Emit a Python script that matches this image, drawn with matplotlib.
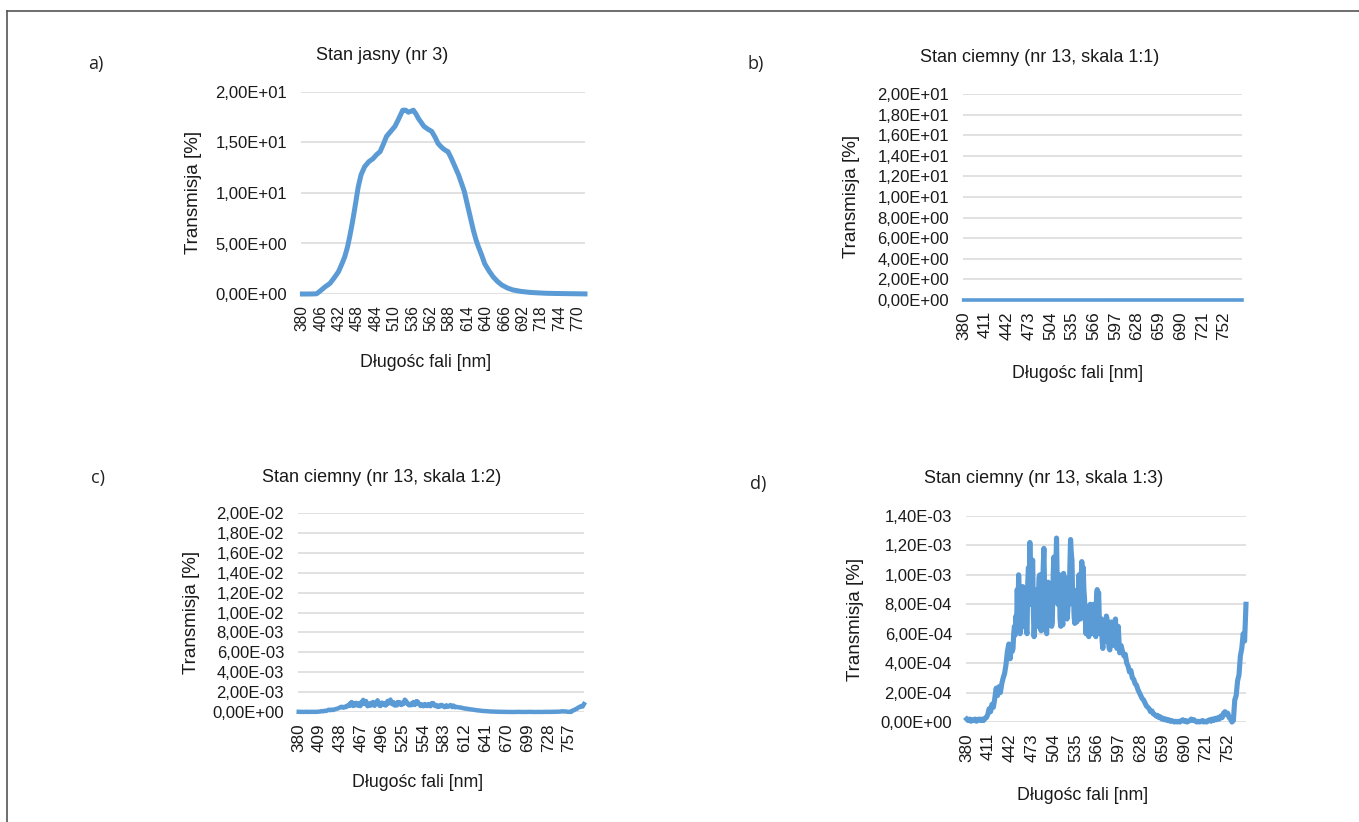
import numpy as np
import matplotlib
matplotlib.use("Agg")
import matplotlib.pyplot as plt
from matplotlib.ticker import FuncFormatter

plt.rcParams['font.family'] = ['Liberation Sans', 'DejaVu Sans']

# --- dane ---
# stan jasny (nr 3), transmisja w %
fala_jasny = [380, 390, 400, 404, 412, 419, 425, 431, 436, 440, 444, 447, 450, 453, 456, 459, 463,
              468, 474, 480, 485, 490, 495, 499, 505, 511, 516, 522, 526, 530, 534, 537, 541,
              544, 548, 552, 558, 563, 568, 572, 576, 579, 583, 586, 591, 596, 601, 605, 609,
              612, 617, 622, 626, 629, 634, 638, 644, 650, 656, 662, 670, 678, 690, 702, 714,
              726, 740, 759, 770, 780]
trans_jasny = [0.0, 0.0, 0.02, 0.23, 0.7, 1.05, 1.6, 2.2, 3.0, 3.7, 4.7, 5.7, 6.8, 8.0, 9.3, 10.6, 11.8,
               12.6, 13.1, 13.4, 13.8, 14.1, 14.9, 15.6, 16.1, 16.6, 17.3, 18.2, 18.2, 18.0, 18.1, 18.2, 17.8,
               17.4, 17.0, 16.6, 16.3, 16.1, 15.5, 14.9, 14.6, 14.4, 14.2, 14.1, 13.4, 12.6, 11.8, 11.0, 10.2,
               9.3, 7.8, 6.3, 5.3, 4.7, 3.8, 3.0, 2.3, 1.7, 1.25, 0.9, 0.6, 0.4, 0.25, 0.16, 0.11,
               0.07, 0.05, 0.03, 0.02, 0.01]

# stan ciemny (nr 13), w jednostkach 1e-4 %
# 380-438 nm co 2 nm
ciemny_1 = [
    0.2, 0.1, 0.2, 0.05, 0.15, 0.1, 0.2, 0.05, 0.15, 0.2,
    0.1, 0.2, 0.1, 0.25, 0.3, 0.5, 0.9, 0.7, 1.2, 1.0,
    1.6, 2.3, 1.8, 2.4, 2.0, 2.6, 3.0, 3.3, 3.9, 4.8,
]
# 440-599 nm co 1 nm
ciemny_2 = [
    5.3, 4.6, 4.3, 5.0, 5.2, 4.8, 5.0, 6.0, 6.5, 5.9,
    7.2, 6.2, 9.0, 7.0, 10.0, 8.5, 6.0, 7.5, 8.5, 6.8,
    9.2, 7.5, 6.5, 8.8, 8.0, 6.2, 6.0, 9.5, 10.5, 8.0,
    12.2, 9.0, 8.0, 10.5, 11.0, 7.5, 5.8, 6.8, 6.5, 8.5,
    9.0, 6.5, 7.5, 9.8, 10.0, 7.0, 6.2, 8.8, 8.5, 10.5,
    11.8, 9.0, 7.0, 6.2, 6.0, 8.0, 9.5, 7.2, 7.8, 9.0,
    8.5, 6.5, 6.8, 9.5, 11.2, 8.5, 9.0, 10.5, 12.5, 9.5,
    8.0, 9.2, 10.0, 7.0, 6.5, 8.5, 7.0, 6.6, 10.1, 8.5,
    8.0, 9.8, 9.5, 7.0, 7.5, 9.0, 8.0, 10.5, 12.4, 11.5,
    11.0, 8.5, 9.0, 7.2, 6.7, 8.0, 7.5, 6.8, 9.0, 8.0,
    10.0, 8.0, 7.0, 9.5, 10.9, 8.5, 10.5, 9.0, 8.3, 7.0,
    6.0, 7.8, 7.5, 6.2, 5.8, 7.0, 8.0, 6.5, 7.0, 6.0,
    6.5, 8.0, 7.5, 6.0, 5.8, 8.5, 9.0, 8.0, 8.8, 7.0,
    6.0, 6.8, 7.0, 5.5, 5.0, 6.0, 6.5, 5.5, 6.0, 7.2,
    7.0, 6.0, 5.5, 5.0, 4.9, 6.0, 6.8, 5.8, 5.2, 5.5,
    6.0, 6.8, 7.0, 5.8, 5.0, 5.5, 6.5, 5.5, 4.7, 5.0,
]
# 600-778 nm co 2 nm
ciemny_3 = [
    5.2, 4.8, 4.5, 4.6, 4.0, 3.8, 3.4, 3.5, 3.0, 2.9,
    2.6, 2.5, 2.2, 2.0, 1.8, 1.6, 1.5, 1.3, 1.1, 1.0,
    0.9, 0.7, 0.75, 0.55, 0.5, 0.4, 0.45, 0.3, 0.35, 0.2,
    0.25, 0.15, 0.2, 0.1, 0.15, 0.05, 0.1, 0.05, 0.0, 0.05,
    0.0, 0.05, 0.0, 0.1, 0.15, 0.05, 0.1, 0.0, 0.05, 0.1,
    0.2, 0.1, 0.15, 0.05, 0.0, 0.05, 0.0, 0.05, 0.1, 0.0,
    0.05, 0.0, 0.1, 0.15, 0.05, 0.2, 0.1, 0.25, 0.15, 0.3,
    0.2, 0.4, 0.3, 0.6, 0.7, 0.5, 0.6, 0.3, 0.2, 0.0,
    0.1, 1.5, 1.8, 2.8, 3.2, 4.5, 5.0, 6.0, 5.5, 8.0,
]
fala_ciemny = np.concatenate([np.arange(380, 440, 2), np.arange(440, 600, 1), np.arange(600, 780, 2)])
trans_ciemny = np.array(ciemny_1 + ciemny_2 + ciemny_3) * 1e-4

tytuly = ["Stan jasny (nr 3)", "Stan ciemny (nr 13, skala 1:1)",
          "Stan ciemny (nr 13, skala 1:2)", "Stan ciemny (nr 13, skala 1:3)"]
litery = ["a)", "b)", "c)", "d)"]

KOLOR = '#5B9BD5'
SIATKA = '#d9d9d9'
TEKST = '#1a1a1a'
W, H = 1359, 822


def prost(l, t, r, b):
    return [l / W, 1 - b / H, (r - l) / W, (b - t) / H]


def fmt_e(v, pos):
    return "{:.2E}".format(v).replace('.', ',')


fig = plt.figure(figsize=(W / 100, H / 100), dpi=100)

# ramka obrazka (gora i lewa krawedz)
fig.add_artist(plt.Line2D([7 / W, 1], [1 - 11 / H, 1 - 11 / H], color='#555555', lw=1.2))
fig.add_artist(plt.Line2D([7 / W, 7 / W], [0, 1 - 11 / H], color='#555555', lw=1.2))

panele = [
    # rect, ymax, ystep, xticks, xlim
    (prost(301, 92, 585, 294), 20, 5, np.arange(380, 771, 26), (378, 780)),
    (prost(963, 94, 1242, 300), 20, 2, np.arange(380, 753, 31), (379, 778)),
    (prost(298, 513, 584, 712), 0.02, 0.002, np.arange(380, 758, 29), (379, 778)),
    (prost(966, 516, 1246, 722), 0.0014, 0.0002, np.arange(380, 753, 31), (379, 778)),
]

osie = []
for i, (r, ymax, ystep, xt, xl) in enumerate(panele):
    ax = fig.add_axes(r)
    ax.set_ylim(0, ymax)
    ax.set_yticks(np.arange(0, ymax + ystep / 2, ystep))
    ax.yaxis.set_major_formatter(FuncFormatter(fmt_e))
    ax.set_xticks(xt)
    ax.set_xticklabels([str(v) for v in xt], rotation=90)
    ax.set_xlim(*xl)
    ax.grid(axis='y', color=SIATKA, lw=1.1)
    ax.set_axisbelow(True)
    for s in ax.spines.values():
        s.set_visible(False)
    ax.tick_params(axis='y', length=0, pad=10, labelsize=12, labelcolor=TEKST)
    ax.tick_params(axis='x', length=0, pad=8, labelsize=12.3 if i else 11.2, labelcolor=TEKST)
    osie.append(ax)

osie[0].plot(fala_jasny, trans_jasny, color=KOLOR, lw=3.6, clip_on=False, solid_joinstyle='round')
osie[1].plot(fala_ciemny, trans_ciemny, color=KOLOR, lw=2.6, clip_on=False)
osie[2].plot(fala_ciemny, trans_ciemny, color=KOLOR, lw=3.2, clip_on=False)
osie[3].plot(fala_ciemny, trans_ciemny, color=KOLOR, lw=3.7, clip_on=False)

# teksty: tytuly, litery, podpisy osi (pozycje w pikselach)
poz_tytul = [(382, 56), (1040, 57), (382, 477), (1044, 478)]
poz_litera = [(96, 64), (756, 64), (98, 478), (758, 484)]
poz_xlab = [(426, 362), (1078, 373), (418, 782), (1083, 795)]
poz_ylab = [(194, 192), (852, 196), (192, 612), (856, 619)]

for i in range(4):
    x, y = poz_tytul[i]
    fig.text(x / W, 1 - y / H, tytuly[i], ha='center', va='center', fontsize=13, color=TEKST)
    x, y = poz_litera[i]
    fig.text(x / W, 1 - y / H, litery[i], ha='center', va='center', fontsize=13,
             family=['Open Sans', 'DejaVu Sans'], color='#222222')
    x, y = poz_xlab[i]
    fig.text(x / W, 1 - y / H, "Długośc fali [nm]", ha='center', va='center', fontsize=12.8, color=TEKST)
    x, y = poz_ylab[i]
    fig.text(x / W, 1 - y / H, "Transmisja [%]", ha='center', va='center', rotation=90,
             fontsize=13.5, color=TEKST)

fig.savefig("out.png", dpi=100)
